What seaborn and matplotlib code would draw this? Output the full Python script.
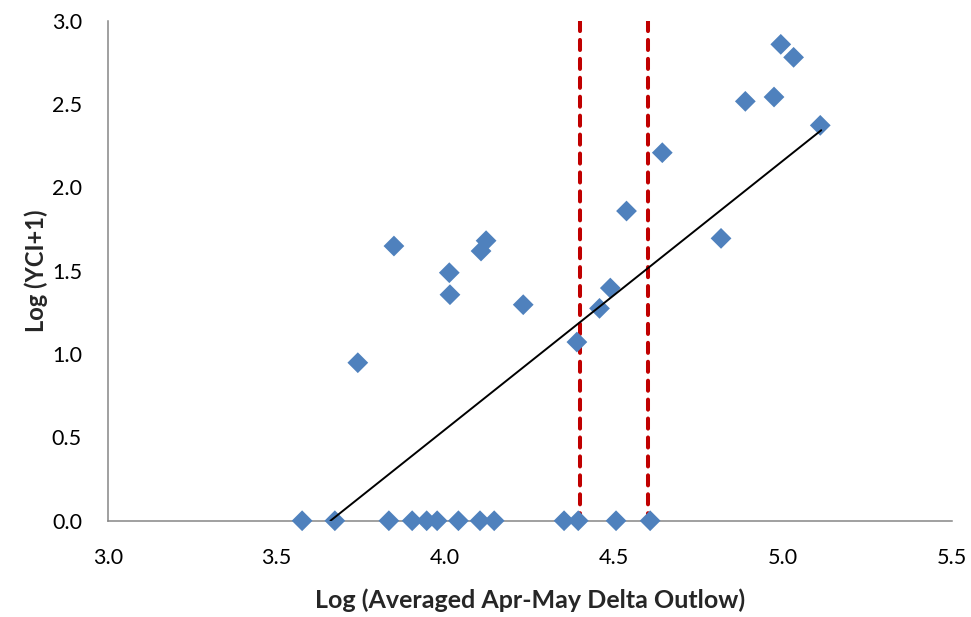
import matplotlib
matplotlib.use("Agg")
import matplotlib.pyplot as plt
import numpy as np
import pandas as pd
import seaborn as sns

# Log-transformed averaged Apr-May Delta outflow vs. Log(YCI+1)
outflow_log = [
    3.576, 3.673, 3.833, 3.902, 3.945, 3.976, 4.039, 4.103, 4.145,
    4.352, 4.394, 4.506, 4.607,
    3.741, 3.848, 4.012, 4.014, 4.106, 4.121, 4.231, 4.390, 4.457,
    4.489, 4.537, 4.643, 4.817, 4.889, 4.974, 4.994, 5.032, 5.111,
]
yci_log = [
    0.0, 0.0, 0.0, 0.0, 0.0, 0.0, 0.0, 0.0, 0.0,
    0.0, 0.0, 0.0, 0.0,
    0.948, 1.648, 1.488, 1.356, 1.618, 1.680, 1.296, 1.072, 1.274,
    1.396, 1.858, 2.208, 1.694, 2.516, 2.542, 2.858, 2.780, 2.372,
]

# Fitted trend line endpoints
trend_x = [3.660, 5.114]
trend_y = [0.0, 2.343]

# Outflow thresholds
threshold_x = [4.4, 4.6]

x_ticks = [3.0, 3.5, 4.0, 4.5, 5.0, 5.5]
y_ticks = [0.0, 0.5, 1.0, 1.5, 2.0, 2.5, 3.0]

df = pd.DataFrame({"outflow": outflow_log, "yci": yci_log})
trend = pd.DataFrame({"x": trend_x, "y": trend_y})

sns.set_theme(style="white")
plt.rcParams["font.family"] = ["Lato", "DejaVu Sans"]

fig = plt.figure(figsize=(9.71, 6.17), dpi=100)
ax = fig.add_axes([0.1109, 0.156, 0.980 - 0.1109, 0.9665 - 0.156])

# threshold lines drawn top-down so the dash pattern starts at the top edge
for xv in threshold_x:
    ax.axvline(xv, ymin=1, ymax=0, color="#C00000", lw=2.9,
               linestyle=(0, (2.5, 2.2)), dash_capstyle="round", zorder=1)

sns.scatterplot(data=df, x="outflow", y="yci", marker="D", s=112,
                color="#4F81BD", edgecolor="none", linewidth=0,
                ax=ax, zorder=3, clip_on=False)

sns.lineplot(data=trend, x="x", y="y", color="black", lw=1.4,
             ax=ax, zorder=4)

ax.set_xlim(3.0, 5.5)
ax.set_ylim(0.0, 3.0)
ax.set_xticks(x_ticks)
ax.set_yticks(y_ticks)
ax.set_xticklabels([f"{v:.1f}" for v in x_ticks], fontsize=15.5)
ax.set_yticklabels([f"{v:.1f}" for v in y_ticks], fontsize=15.5)

for side in ["top", "right"]:
    ax.spines[side].set_visible(False)
for side in ["left", "bottom"]:
    ax.spines[side].set_color("#868686")
    ax.spines[side].set_linewidth(1.1)

ax.tick_params(axis="both", which="major", direction="out", length=6,
               width=1.1, color="#868686", labelcolor="black")
ax.tick_params(axis="x", pad=13.5)
ax.tick_params(axis="y", pad=12.5)

ax.set_xlabel("Log (Averaged Apr-May Delta Outlow)", fontsize=18,
              fontweight="bold", labelpad=15)
ax.set_ylabel("Log (YCI+1)", fontsize=17, fontweight="bold", labelpad=3)

fig.savefig("out.png", dpi=100, facecolor="white")
